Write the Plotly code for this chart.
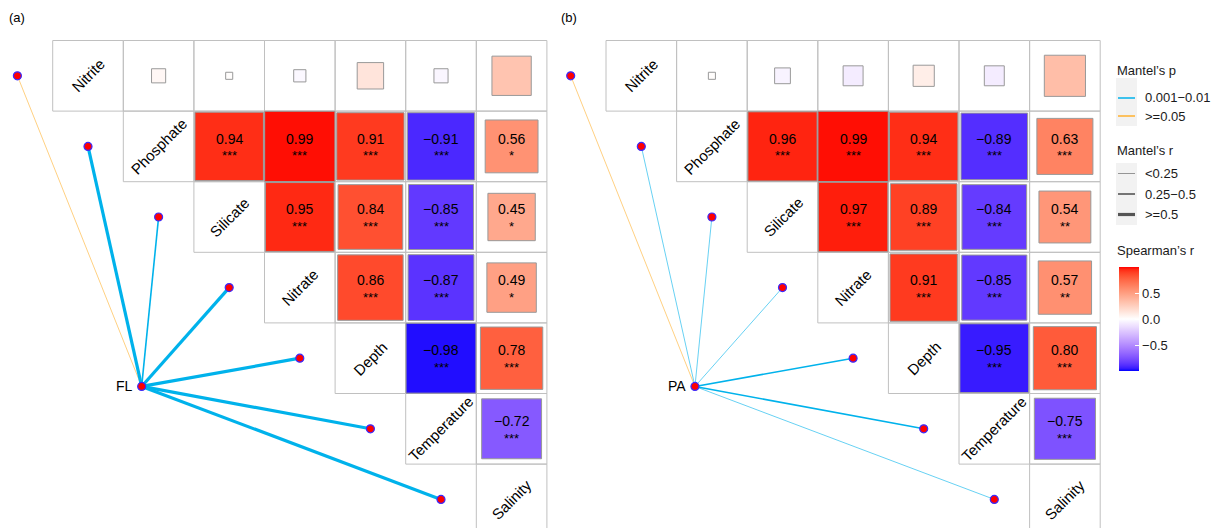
import plotly.graph_objects as go

# ---------------- data ----------------
env_vars = ["Nitrite", "Phosphate", "Silicate", "Nitrate", "Depth", "Temperature", "Salinity"]

# Spearman's r among environmental variables (upper triangle, row by row)
fl_corr = [
    [0.04, 0.01, -0.03, 0.14, -0.04, 0.31],
    [0.94, 0.99, 0.91, -0.91, 0.56],
    [0.95, 0.84, -0.85, 0.45],
    [0.86, -0.87, 0.49],
    [-0.98, 0.78],
    [-0.72],
]
fl_sig = [
    ["", "", "", "", "", ""],
    ["***", "***", "***", "***", "*"],
    ["***", "***", "***", "*"],
    ["***", "***", "*"],
    ["***", "***"],
    ["***"],
]
pa_corr = [
    [0.01, -0.05, -0.08, 0.09, -0.08, 0.34],
    [0.96, 0.99, 0.94, -0.89, 0.63],
    [0.97, 0.89, -0.84, 0.54],
    [0.91, -0.85, 0.57],
    [-0.95, 0.80],
    [-0.75],
]
pa_sig = [
    ["", "", "", "", "", ""],
    ["***", "***", "***", "***", "***"],
    ["***", "***", "***", "**"],
    ["***", "***", "**"],
    ["***", "***"],
    ["***"],
]

# Mantel test classes for each community against each variable
fl_mantel_p = [">=0.05", "0.001-0.01", "0.001-0.01", "0.001-0.01", "0.001-0.01", "0.001-0.01", "0.001-0.01"]
fl_mantel_r = ["<0.25", ">=0.5", "0.25-0.5", ">=0.5", ">=0.5", ">=0.5", ">=0.5"]
pa_mantel_p = [">=0.05", "0.001-0.01", "0.001-0.01", "0.001-0.01", "0.001-0.01", "0.001-0.01", "0.001-0.01"]
pa_mantel_r = ["<0.25", "<0.25", "<0.25", "<0.25", "0.25-0.5", "0.25-0.5", "<0.25"]

p_classes = ["0.001-0.01", ">=0.05"]
p_labels = ["0.001\u22120.01", "&gt;=0.05"]
r_classes = ["<0.25", "0.25-0.5", ">=0.5"]
r_labels = ["&lt;0.25", "0.25\u22120.5", "&gt;=0.5"]

# ---------------- styling ----------------
W, H = 1220, 528
CELL = 70.6
FONT = "Arial, Liberation Sans, sans-serif"
P_COLORS = {"0.001-0.01": "#00B2EB", ">=0.05": "#FFB02E"}
R_WIDTHS = {"<0.25": 0.6, "0.25-0.5": 1.6, ">=0.5": 3.2}
GRID_COLOR = "#C0C0C0"
SQUARE_EDGE = "#999999"


# Lab-space interpolation for a blue-white-red diverging scale
def _lin(c):
    c = c / 255.0
    return c / 12.92 if c <= 0.04045 else ((c + 0.055) / 1.055) ** 2.4


def _gam(c):
    c = 12.92 * c if c <= 0.0031308 else 1.055 * c ** (1 / 2.4) - 0.055
    return max(0, min(255, round(c * 255)))


_WP = (0.95047, 1.0, 1.08883)


def rgb_to_lab(rgb):
    r, g, b = (_lin(v) for v in rgb)
    x = 0.4124564 * r + 0.3575761 * g + 0.1804375 * b
    y = 0.2126729 * r + 0.7151522 * g + 0.0721750 * b
    z = 0.0193339 * r + 0.1191920 * g + 0.9503041 * b

    def f(t):
        return t ** (1 / 3) if t > 216 / 24389 else (24389 / 27 * t + 16) / 116

    fx, fy, fz = f(x / _WP[0]), f(y / _WP[1]), f(z / _WP[2])
    return (116 * fy - 16, 500 * (fx - fy), 200 * (fy - fz))


def lab_to_rgb(lab):
    L, a, b = lab
    fy = (L + 16) / 116
    fx = fy + a / 500
    fz = fy - b / 200

    def finv(t):
        return t ** 3 if t ** 3 > 216 / 24389 else (116 * t - 16) / (24389 / 27)

    x, y, z = finv(fx) * _WP[0], finv(fy) * _WP[1], finv(fz) * _WP[2]
    r = 3.2404542 * x - 1.5371385 * y - 0.4985314 * z
    g = -0.9692660 * x + 1.8760108 * y + 0.0415560 * z
    bb = 0.0556434 * x - 0.2040259 * y + 1.0572252 * z
    return (_gam(max(0, r)), _gam(max(0, g)), _gam(max(0, bb)))


LAB_LOW = rgb_to_lab((0, 0, 255))
LAB_MID = rgb_to_lab((255, 255, 255))
LAB_HIGH = rgb_to_lab((255, 0, 0))


def fill_color(v):
    t = min(1.0, abs(v))
    end = LAB_HIGH if v >= 0 else LAB_LOW
    lab = tuple(m + t * (e - m) for m, e in zip(LAB_MID, end))
    r, g, b = lab_to_rgb(lab)
    return f"rgb({r},{g},{b})"


def fmt(v):
    return f"{v:.2f}".replace("-", "\u2212")


# ---------------- figure ----------------
fig = go.Figure()
shapes = []
annotations = []


def text(x, y, s, xref, yref, size, xanchor="center", angle=0, color="black"):
    annotations.append(dict(x=x, y=y, xref=xref, yref=yref, text=s, textangle=angle,
                            xanchor=xanchor, yanchor="middle", showarrow=False,
                            font=dict(size=size, color=color, family=FONT)))


# panel geometry (pixels): plot domain and centre of the first grid cell
panels = [
    dict(name="FL", tag="(a)", corr=fl_corr, sig=fl_sig, mp=fl_mantel_p, mr=fl_mantel_r,
         dom=(0, 552), c0=(88.0, 75.8), node=(0.76, 4.40), tag_px=(17, 17), ax=""),
    dict(name="PA", tag="(b)", corr=pa_corr, sig=pa_sig, mp=pa_mantel_p, mr=pa_mantel_r,
         dom=(552, 1106), c0=(641.3, 75.8), node=(0.76, 4.40), tag_px=(569, 17), ax="2"),
]

n = len(env_vars)
for pan in panels:
    ax = pan["ax"]
    xref, yref = "x" + ax, "y" + ax
    p0, p1 = pan["dom"]
    cx, cy = pan["c0"]
    fig.update_layout({
        "xaxis" + ax: dict(domain=[p0 / W, p1 / W], range=[(p0 - cx) / CELL, (p1 - cx) / CELL],
                           visible=False, fixedrange=True),
        "yaxis" + ax: dict(domain=[0, 1], range=[(H - cy) / CELL, (0 - cy) / CELL],
                           visible=False, fixedrange=True),
    })

    # grid cells of the upper triangle, diagonal included
    for i in range(n):
        for j in range(i, n):
            shapes.append(dict(type="rect", xref=xref, yref=yref,
                               x0=j - 0.5, x1=j + 0.5, y0=i - 0.5, y1=i + 0.5,
                               line=dict(color=GRID_COLOR, width=1), fillcolor="rgba(0,0,0,0)",
                               layer="below"))

    # squares with area proportional to |r|
    for i, row in enumerate(pan["corr"]):
        for k, v in enumerate(row):
            j = i + 1 + k
            h = 0.5 * abs(v) ** 0.5
            shapes.append(dict(type="rect", xref=xref, yref=yref,
                               x0=j - h, x1=j + h, y0=i - h, y1=i + h,
                               line=dict(color=SQUARE_EDGE, width=1), fillcolor=fill_color(v),
                               layer="above"))
            s = pan["sig"][i][k]
            if s:
                text(j, i - 0.11, fmt(v), xref, yref, 14)
                text(j, i + 0.135, s, xref, yref, 13)

    # diagonal variable names
    for i, name in enumerate(env_vars):
        text(i, i, name, xref, yref, 15, angle=-45)

    # Mantel links from the community node to each variable
    nx, ny = pan["node"]
    for i in range(n):
        fig.add_trace(go.Scatter(
            x=[nx, i - 1], y=[ny, i], xaxis=xref, yaxis=yref, mode="lines",
            line=dict(color=P_COLORS[pan["mp"][i]], width=R_WIDTHS[pan["mr"][i]]),
            hoverinfo="skip", showlegend=False))
    fig.add_trace(go.Scatter(
        x=[i - 1 for i in range(n)] + [nx], y=[i for i in range(n)] + [ny],
        xaxis=xref, yaxis=yref, mode="markers",
        marker=dict(size=8, color="#FF0000", line=dict(color="#3A2BFF", width=1.2)),
        hoverinfo="skip", showlegend=False, cliponaxis=False))
    text(nx - 0.1, ny, pan["name"], xref, yref, 14, xanchor="right")

    tx, ty = pan["tag_px"]
    text(tx / W, 1 - ty / H, pan["tag"], "paper", "paper", 13)


# ---------------- legends ----------------
def px(x):
    return x / W


def py(y):
    return 1 - y / H


LEG_COLOR = "#1A1A1A"


def legend_text(s, x, y):
    text(px(x), py(y), s, "paper", "paper", 13, xanchor="left", color=LEG_COLOR)


legend_text("Mantel\u2019s p", 1115, 70)
shapes.append(dict(type="rect", xref="paper", yref="paper", x0=px(1116), x1=px(1137),
                   y0=py(126), y1=py(78), fillcolor="#F2F2F2", line=dict(width=0), layer="below"))
for k, (cls, lab) in enumerate(zip(p_classes, p_labels)):
    yy = 98 + 18 * k
    shapes.append(dict(type="line", xref="paper", yref="paper", x0=px(1118), x1=px(1135),
                       y0=py(yy), y1=py(yy), line=dict(color=P_COLORS[cls], width=1.5)))
    legend_text(lab, 1143, yy)

legend_text("Mantel\u2019s r", 1115, 150)
shapes.append(dict(type="rect", xref="paper", yref="paper", x0=px(1116), x1=px(1137),
                   y0=py(225), y1=py(163), fillcolor="#F2F2F2", line=dict(width=0), layer="below"))
for k, (cls, lab) in enumerate(zip(r_classes, r_labels)):
    yy = 173.5 + 20.5 * k
    shapes.append(dict(type="line", xref="paper", yref="paper", x0=px(1118), x1=px(1135),
                       y0=py(yy), y1=py(yy), line=dict(color="#555555", width=R_WIDTHS[cls])))
    legend_text(lab, 1143, yy)

legend_text("Spearman\u2019s r", 1115, 250)

# continuous colour bar for Spearman's r
steps = 40
colorscale = [[k / steps, fill_color(-1 + 2 * k / steps)] for k in range(steps + 1)]
fig.add_trace(go.Scatter(
    x=[None], y=[None], mode="markers", showlegend=False, hoverinfo="skip",
    marker=dict(color=[0], cmin=-1, cmax=1, colorscale=colorscale, showscale=True,
                colorbar=dict(x=px(1119), xanchor="left", y=py(267), yanchor="top",
                              lenmode="pixels", len=104, thicknessmode="pixels", thickness=20,
                              outlinewidth=0, xpad=0, ypad=0,
                              tickvals=[-0.5, 0, 0.5], ticktext=["\u22120.5", "0.0", "0.5"],
                              ticks="inside", ticklen=4, tickcolor="white",
                              tickfont=dict(size=13, color=LEG_COLOR, family=FONT)))))

fig.update_layout(
    width=W, height=H, margin=dict(l=0, r=0, t=0, b=0),
    paper_bgcolor="white", plot_bgcolor="white",
    shapes=shapes, annotations=annotations, showlegend=False,
    font=dict(family=FONT),
)

fig.write_html("out.html")
